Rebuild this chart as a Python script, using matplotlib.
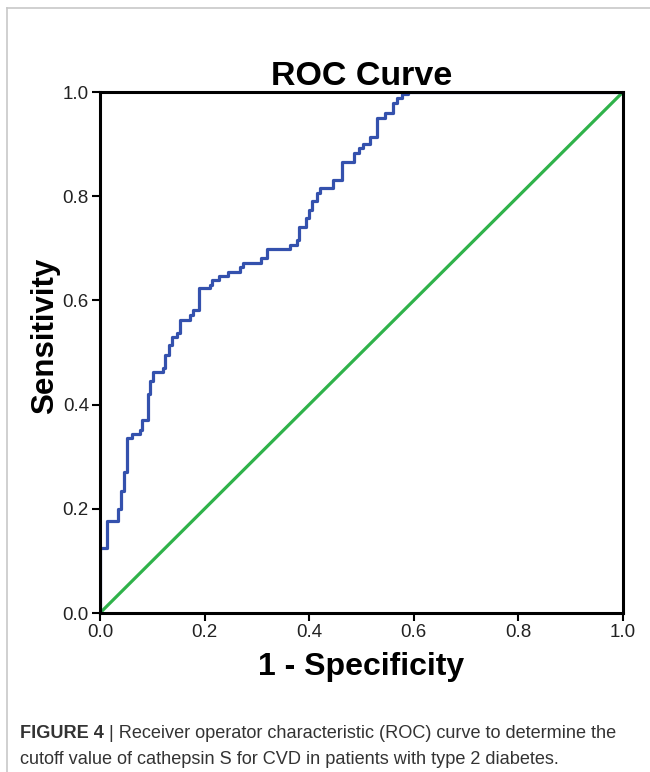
import matplotlib
matplotlib.use("Agg")
import matplotlib.pyplot as plt
from matplotlib.lines import Line2D

plt.rcParams['font.family'] = ['Liberation Sans', 'DejaVu Sans']

# step corners of the ROC curve
fpr = [0, 0, 0.013, 0.034, 0.040, 0.046, 0.051, 0.061, 0.077, 0.080, 0.091,
       0.096, 0.102, 0.121, 0.124, 0.131, 0.137, 0.148, 0.153, 0.172, 0.178,
       0.189, 0.210, 0.215, 0.228, 0.244, 0.268, 0.273, 0.308, 0.320, 0.363,
       0.376, 0.380, 0.394, 0.400, 0.405, 0.415, 0.421, 0.445, 0.462, 0.486,
       0.496, 0.503, 0.516, 0.530, 0.545, 0.561, 0.567, 0.577, 0.588, 1.0]
tpr = [0, 0.125, 0.177, 0.200, 0.235, 0.270, 0.336, 0.343, 0.351, 0.370, 0.420,
       0.445, 0.463, 0.470, 0.495, 0.514, 0.530, 0.537, 0.562, 0.572, 0.582,
       0.623, 0.630, 0.639, 0.647, 0.655, 0.665, 0.672, 0.681, 0.699, 0.706,
       0.715, 0.740, 0.758, 0.774, 0.790, 0.807, 0.815, 0.832, 0.866, 0.882,
       0.893, 0.900, 0.914, 0.951, 0.960, 0.979, 0.989, 0.996, 1.0, 1.0]
ref_x = [0, 1]
ref_y = [0, 1]
ticks = [0.0, 0.2, 0.4, 0.6, 0.8, 1.0]

W, H = 650, 772
fig = plt.figure(figsize=(6.5, 7.72), dpi=100)
ax = fig.add_axes([100 / W, 1 - 613 / H, 523 / W, 521 / H])

ax.plot(ref_x, ref_y, color='#2fb24a', lw=2.3, zorder=2)
ax.step(fpr, tpr, where='post', color='#3451ad', lw=2.3, zorder=3)

ax.set_xlim(0, 1)
ax.set_ylim(0, 1)
ax.set_xticks(ticks)
ax.set_yticks(ticks)
ax.set_xticklabels(['%.1f' % t for t in ticks])
ax.set_yticklabels(['%.1f' % t for t in ticks])
ax.tick_params(labelsize=13.5, length=6, width=1.5, color='black', labelcolor='#222222', pad=2)
for s in ax.spines.values():
    s.set_linewidth(2.2)
    s.set_zorder(5)

ax.set_title('ROC Curve', fontsize=24.5, fontweight='bold', pad=5)
ax.set_xlabel('1 - Specificity', fontsize=23, fontweight='bold', labelpad=8)
ax.set_ylabel('Sensitivity', fontsize=22.5, fontweight='bold')
ax.yaxis.set_label_coords(-0.077, 0.532)

# light frame around the figure
fig.add_artist(Line2D([7 / W, 1], [1 - 8 / H, 1 - 8 / H], color='#c8c8c8', lw=1.2))
fig.add_artist(Line2D([7 / W, 7 / W], [0, 1 - 8 / H], color='#c8c8c8', lw=1.2))

# caption
fs = 13.1
t1 = fig.text(20 / W, 1 - 733 / H, 'FIGURE 4', fontsize=fs, fontweight='bold',
              color='#333333', va='center')
fig.canvas.draw()
bb = t1.get_window_extent()
fig.text(bb.x1 / W, 1 - 733 / H,
         ' | Receiver operator characteristic (ROC) curve to determine the',
         fontsize=fs, color='#333333', va='center')
fig.text(20 / W, 1 - 759 / H,
         'cutoff value of cathepsin S for CVD in patients with type 2 diabetes.',
         fontsize=fs, color='#333333', va='center')

fig.savefig('out.png', dpi=100)
